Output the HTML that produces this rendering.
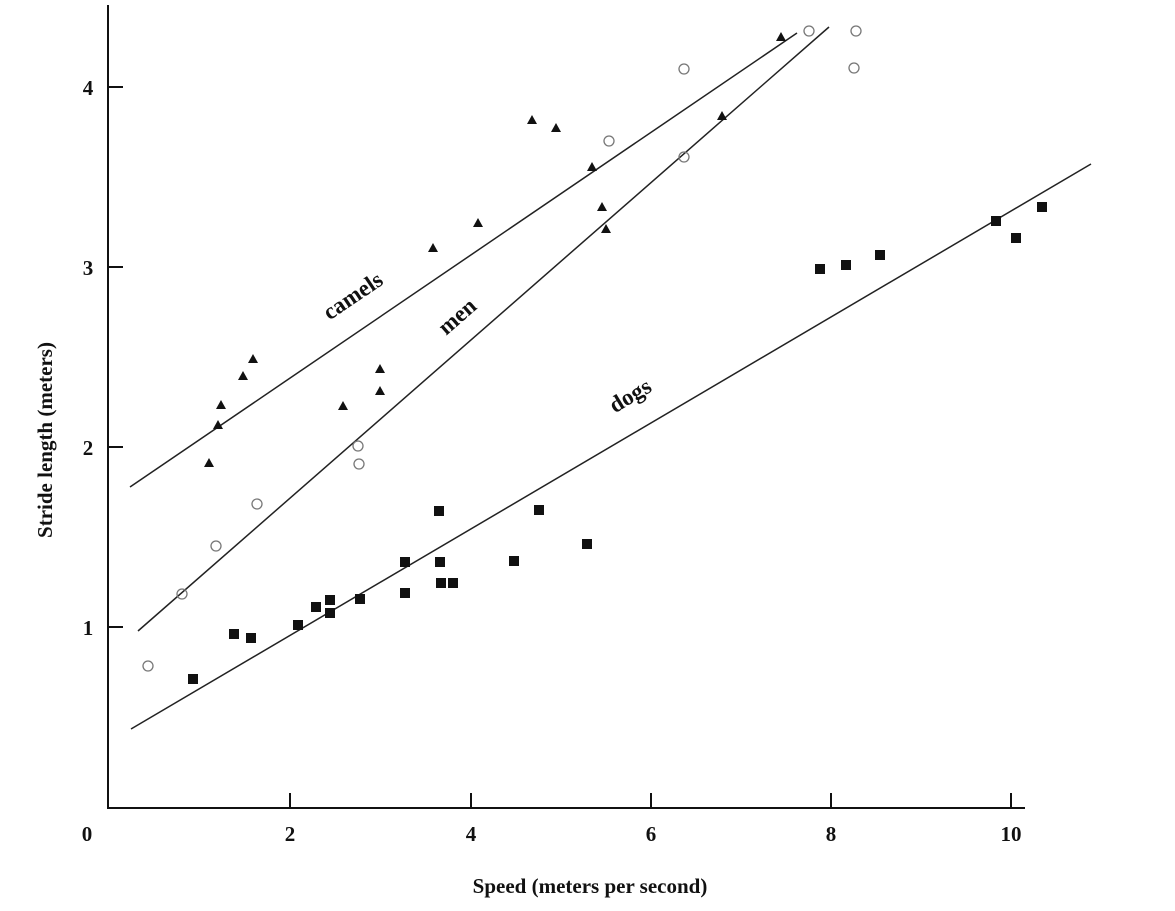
<!DOCTYPE html><html><head><style>body{margin:0;background:#fff}svg{display:block}text{font-family:"Liberation Serif",serif;font-weight:bold;fill:#111}</style></head><body>
<svg width="1175" height="911" viewBox="0 0 1175 911">
<defs>
<polygon id="t" points="-5,4 5,4 0,-5" fill="#111"/>
<circle id="c" r="5" fill="none" stroke="#777" stroke-width="1.3"/>
<rect id="s" x="-5" y="-5" width="10" height="10" fill="#111"/>
</defs>
<g stroke="#111" stroke-width="2" fill="none">
<line x1="108" y1="5" x2="108" y2="808"/><line x1="107" y1="808" x2="1025" y2="808"/>
<line x1="108" y1="87" x2="123" y2="87"/><line x1="108" y1="267" x2="123" y2="267"/><line x1="108" y1="447" x2="123" y2="447"/><line x1="108" y1="627" x2="123" y2="627"/>
<line x1="290" y1="808" x2="290" y2="793"/><line x1="471" y1="808" x2="471" y2="793"/><line x1="651" y1="808" x2="651" y2="793"/><line x1="831" y1="808" x2="831" y2="793"/><line x1="1011" y1="808" x2="1011" y2="793"/>
</g>
<g stroke="#222" stroke-width="1.5">
<line x1="130" y1="487" x2="797" y2="33"/><line x1="138" y1="631" x2="829" y2="27"/><line x1="131" y1="729" x2="1091" y2="164"/>
</g>
<g font-size="21" text-anchor="middle">
<text x="87" y="841">0</text><text x="290" y="841">2</text><text x="471" y="841">4</text><text x="651" y="841">6</text><text x="831" y="841">8</text><text x="1011" y="841">10</text>
<text x="88" y="95">4</text><text x="88" y="275">3</text><text x="88" y="455">2</text><text x="88" y="635">1</text>
<text x="590" y="893">Speed (meters per second)</text>
<text transform="translate(52,440) rotate(-90)">Stride length (meters)</text>
<text font-size="23" transform="translate(357,302) rotate(-34)">camels</text>
<text font-size="23" transform="translate(462,322) rotate(-41)">men</text>
<text font-size="23" transform="translate(634,402) rotate(-31)">dogs</text>
</g>
<use href="#t" x="209" y="463"/><use href="#t" x="218" y="425"/><use href="#t" x="221" y="405"/><use href="#t" x="243" y="376"/><use href="#t" x="253" y="359"/><use href="#t" x="343" y="406"/><use href="#t" x="380" y="369"/><use href="#t" x="380" y="391"/><use href="#t" x="433" y="248"/><use href="#t" x="478" y="223"/><use href="#t" x="532" y="120"/><use href="#t" x="556" y="128"/><use href="#t" x="592" y="167"/><use href="#t" x="602" y="207"/><use href="#t" x="606" y="229"/><use href="#t" x="722" y="116"/><use href="#t" x="781" y="37"/>
<use href="#c" x="148" y="666"/><use href="#c" x="182" y="594"/><use href="#c" x="216" y="546"/><use href="#c" x="257" y="504"/><use href="#c" x="358" y="446"/><use href="#c" x="359" y="464"/><use href="#c" x="609" y="141"/><use href="#c" x="684" y="69"/><use href="#c" x="684" y="157"/><use href="#c" x="809" y="31"/><use href="#c" x="856" y="31"/><use href="#c" x="854" y="68"/>
<use href="#s" x="193" y="679"/><use href="#s" x="234" y="634"/><use href="#s" x="251" y="638"/><use href="#s" x="298" y="625"/><use href="#s" x="316" y="607"/><use href="#s" x="330" y="613"/><use href="#s" x="330" y="600"/><use href="#s" x="360" y="599"/><use href="#s" x="405" y="562"/><use href="#s" x="405" y="593"/><use href="#s" x="439" y="511"/><use href="#s" x="440" y="562"/><use href="#s" x="441" y="583"/><use href="#s" x="453" y="583"/><use href="#s" x="514" y="561"/><use href="#s" x="539" y="510"/><use href="#s" x="587" y="544"/><use href="#s" x="820" y="269"/><use href="#s" x="846" y="265"/><use href="#s" x="880" y="255"/><use href="#s" x="996" y="221"/><use href="#s" x="1016" y="238"/><use href="#s" x="1042" y="207"/>
</svg></body></html>
